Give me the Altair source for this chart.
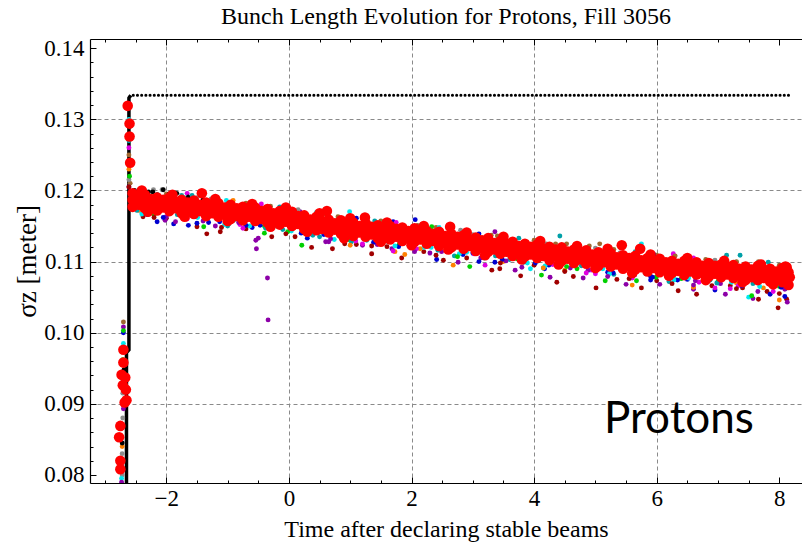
import altair as alt
import pandas as pd

TITLE = "Bunch Length Evolution for Protons, Fill 3056"
X_TITLE = "Time after declaring stable beams"
Y_TITLE = "σz [meter]"
LABEL = "Protons"
LABEL_T = [5.14]
LABEL_Y = [0.0859]

X_DOMAIN = [-3.245, 8.37]
Y_DOMAIN = [0.07887, 0.1413]
X_MAJOR = [-2, 0, 2, 4, 6, 8]
X_MINOR = [-3.0, -2.5, -1.5, -1.0, -0.5, 0.5, 1.0, 1.5, 2.5, 3.0, 3.5, 4.5, 5.0, 5.5, 6.5, 7.0, 7.5]
X_GRID = [-2, 0, 2, 4, 6]
Y_MAJOR = [0.08, 0.09, 0.10, 0.11, 0.12, 0.13, 0.14]
Y_MINOR = [0.082, 0.084, 0.086, 0.088, 0.092, 0.094, 0.096, 0.098, 0.102, 0.104, 0.106, 0.108,
           0.112, 0.114, 0.116, 0.118, 0.122, 0.124, 0.126, 0.128, 0.132, 0.134, 0.136, 0.138]
Y_GRID = [0.09, 0.10, 0.11, 0.12, 0.13]

# bunch length values below are in units of 0.1 mm (1186 -> 0.1186 m)
T_RED = [-2.55, -2.35, -2.15, -1.95, -1.75, -1.55, -1.35, -1.15, -0.95, -0.75, -0.55, -0.35, -0.15,
         0.05, 0.25, 0.45, 0.65, 0.85, 1.05, 1.25, 1.45, 1.65, 1.85, 2.05, 2.25, 2.45, 2.65, 2.85,
         3.05, 3.25, 3.45, 3.65, 3.85, 4.05, 4.25, 4.45, 4.65, 4.85, 5.05, 5.25, 5.45, 5.65, 5.85,
         6.05, 6.25, 6.45, 6.65, 6.85, 7.05, 7.25, 7.45, 7.65, 7.85, 8.05]
RED_UP = [1196, 1194, 1190, 1190, 1187, 1186, 1183, 1182, 1180, 1177,
          1176, 1174, 1171, 1170, 1165, 1163, 1159, 1158, 1155, 1154,
          1151, 1150, 1148, 1147, 1143, 1142, 1139, 1137, 1134, 1133,
          1129, 1128, 1125, 1124, 1121, 1120, 1117, 1116, 1113, 1112,
          1109, 1108, 1105, 1104, 1101, 1101, 1099, 1098, 1096, 1095,
          1093, 1094, 1090, 1091]
RED_MID = [1187, 1183, 1184, 1179, 1180, 1175, 1176, 1171, 1171, 1167,
           1169, 1163, 1164, 1158, 1157, 1152, 1151, 1147, 1148, 1145,
           1143, 1142, 1138, 1139, 1135, 1133, 1131, 1126, 1127, 1122,
           1121, 1117, 1118, 1113, 1113, 1109, 1110, 1105, 1106, 1101,
           1102, 1097, 1098, 1094, 1095, 1090, 1092, 1088, 1089, 1086,
           1087, 1083, 1083, 1080]
RED_LO = [1177, 1175, 1172, 1171, 1168, 1167, 1164, 1163, 1160, 1158,
          1157, 1155, 1152, 1150, 1146, 1144, 1141, 1139, 1136, 1135,
          1133, 1131, 1129, 1128, 1125, 1122, 1120, 1118, 1115, 1114,
          1111, 1108, 1107, 1105, 1102, 1101, 1098, 1097, 1094, 1093,
          1090, 1089, 1086, 1085, 1084, 1081, 1082, 1079, 1078, 1077,
          1074, 1074, 1072, 1071]
T_RED2 = [-2.45, -2.25, -2.05, -1.85, -1.65, -1.45, -1.25, -1.05, -0.85, -0.65, -0.45, -0.25, -0.05,
          0.15, 0.35, 0.55, 0.75, 0.95, 1.15, 1.35, 1.55, 1.75, 1.95, 2.15, 2.35, 2.55, 2.75, 2.95,
          3.15, 3.35, 3.55, 3.75, 3.95, 4.15, 4.35, 4.55, 4.75, 4.95, 5.15, 5.35, 5.55, 5.75, 5.95,
          6.15, 6.35, 6.55, 6.75, 6.95, 7.15, 7.35, 7.55, 7.75, 7.95]
RED_A = [1191, 1188, 1187, 1184, 1183, 1180, 1179, 1176, 1175, 1172, 1171, 1168, 1167,
         1164, 1159, 1157, 1154, 1153, 1150, 1149, 1146, 1146, 1143, 1141, 1139, 1136, 1135,
         1131, 1130, 1126, 1125, 1122, 1121,
         1118, 1117, 1114, 1113, 1110, 1109, 1106, 1105, 1102, 1101, 1099, 1097, 1096, 1094,
         1094, 1092, 1090, 1089, 1088, 1086]
RED_B = [1180, 1179, 1176, 1175, 1172, 1171, 1168, 1167, 1164, 1163, 1160, 1159, 1156,
         1153, 1150, 1146, 1145, 1142, 1141, 1138, 1137, 1135, 1133, 1131, 1129, 1126, 1124,
         1122, 1119, 1117, 1114, 1113, 1110,
         1108, 1107, 1104, 1103, 1100, 1099, 1096, 1095, 1092, 1091, 1089, 1087, 1086, 1084,
         1083, 1082, 1080, 1078, 1077, 1076]
# ragged red points along both edges of the band
RED_EDGE_T = [-2.4, -1.9, -1.2, -0.6, -0.05, 0.5, 1.0, 1.6, 2.2, 2.9, 3.5, 4.1, 4.7, 5.2, 5.9, 6.5,
              7.1, 7.7, 8.1,
              -2.3, -1.7, -1.0, -0.3, 0.3, 0.9, 1.5, 2.0, 2.6, 3.2, 3.8, 4.4, 5.0, 5.6, 6.2, 6.8,
              7.4, 7.9, 8.15]
RED_EDGE_Y = [1200, 1194, 1188, 1181, 1176, 1168, 1161, 1155, 1150, 1141, 1135, 1129, 1122, 1118,
              1110, 1105, 1101, 1096, 1093,
              1170, 1163, 1157, 1149, 1142, 1133, 1128, 1123, 1117, 1109, 1103, 1096, 1091, 1084,
              1080, 1074, 1071, 1068, 1067]
RED_X_T = [-2.77, -2.75, -2.75, -2.75, -2.73, -2.71, -2.70, -2.70, -2.68, -2.67, -2.66, -2.65,
           -2.63, -2.60, -2.60, -2.59, -1.42, 0.62, 1.24, 2.63, 5.43, 5.73, 8.12, 8.15, 8.17]
RED_X_Y = [853, 869, 820, 808, 941, 926, 976, 958, 902, 937, 920, 905,
           1319, 1294, 1276, 1239, 1196, 1171, 1162, 1149, 1123, 1118, 1092, 1085, 1078]

DARKRED_T = [-2.38, -2.0, -1.5, -1.34, -1.12, -0.7, -0.28, 0.1, 0.37, 0.71, 0.91, 1.1, 1.35, 1.6,
             1.84, 2.2, 2.52, 2.9, 3.31, 3.44, 3.78, 4.0, 4.37, 4.64, 5.01, 5.35, 5.6, 5.75, 6.0,
             6.35, 6.65, 6.9, 7.2, 7.4, 7.66, 7.8, 7.98, 8.12]
DARKRED_Y = [1163, 1161, 1149, 1139, 1142, 1146, 1135, 1135, 1120, 1118, 1125, 1124, 1111, 1121,
             1105, 1114, 1102, 1105, 1088, 1090, 1080, 1095, 1071, 1079, 1063, 1075, 1078, 1063,
             1073, 1059, 1054, 1066, 1066, 1063, 1047, 1058, 1035, 1047]
PURPLE_T = [-2.02, -1.2, -0.54, -0.53, -0.5, -0.35, -0.34, 0.18, 0.6, 1.2, 1.68, 2.3, 2.76, 3.36,
            3.69, 4.26, 4.8, 5.5, 6.05, 6.6, 7.12, 7.57, 8.13]
PURPLE_Y = [1158, 1150, 1130, 1118, 1133, 1077, 1018, 1170, 1128, 1123, 1118, 1112, 1099, 1142,
            1088, 1078, 1077, 1068, 1068, 1061, 1054, 1048, 1043]
BLUE_T = [-2.15, -1.88, -1.64, -1.13, -0.6, 0.2, 0.9, 1.70, 2.06, 2.41, 3.0, 3.36, 4.02, 4.17,
          4.42, 5.2, 5.9, 6.5, 6.95, 7.4, 7.85, 8.09]
BLUE_Y = [1156, 1153, 1151, 1156, 1148, 1140, 1134, 1156, 1159, 1103, 1112, 1099, 1098, 1090,
          1095, 1085, 1079, 1075, 1060, 1068, 1054, 1051]
CYAN_T = [-2.3, -1.7, -0.9, -0.2, 0.99, 1.5, 2.2, 2.9, 3.94, 4.15, 4.9, 5.75, 6.3, 7.0, 7.5, 8.12]
CYAN_Y = [1168, 1190, 1158, 1150, 1170, 1128, 1120, 1113, 1090, 1091, 1088, 1125, 1075, 1070, 1050, 1065]
TEAL_T = [-2.5, -1.75, -1.18, -1.0, -0.1, 0.5, 1.4, 2.7, 3.6, 4.42, 5.3, 6.2, 7.14, 7.36, 7.82, 8.1]
TEAL_Y = [1175, 1193, 1189, 1150, 1145, 1135, 1130, 1108, 1103, 1136, 1082, 1072, 1109, 1109, 1099, 1062]
GREEN_T = [-2.2, -1.39, -0.4, 0.21, 1.0, 1.8, 2.33, 2.95, 4.12, 4.7, 5.16, 5.67, 6.4, 7.0, 7.55, 8.0]
GREEN_Y = [1166, 1149, 1150, 1123, 1130, 1124, 1149, 1093, 1081, 1090, 1073, 1073, 1076, 1072, 1052, 1065]
MAGENTA_T = [-2.4, -1.66, -0.8, 0.3, 1.2, 2.0, 2.9, 3.2, 4.3, 5.0, 5.6, 6.27, 6.8, 7.2, 7.9]
MAGENTA_Y = [1170, 1196, 1152, 1142, 1125, 1125, 1142, 1095, 1096, 1083, 1077, 1111, 1073, 1062, 1058]
ORANGE_T = [-2.45, -0.91, 0.4, 1.73, 1.89, 2.68, 3.5, 4.5, 5.6, 6.6, 7.3, 8.0]
ORANGE_Y = [1172, 1186, 1140, 1114, 1110, 1095, 1100, 1088, 1067, 1064, 1070, 1046]
BROWN_T = [-2.59, -2.0, -1.2, -0.3, 0.6, 1.5, 2.4, 3.3, 4.0, 4.53, 4.9, 5.07, 6.0, 6.8, 7.3, 7.66, 8.0]
BROWN_Y = [1210, 1195, 1188, 1178, 1167, 1157, 1148, 1137, 1130, 1125, 1122, 1125, 1109, 1103, 1099, 1100, 1092]
GRAY_T = [-2.57, -2.21, -2.07, -1.5, -0.6, 0.5, 1.3, 2.2, 3.0, 4.2, 5.4, 6.5, 7.6, 8.1]
GRAY_Y = [1195, 1201, 1201, 1190, 1176, 1168, 1155, 1148, 1138, 1125, 1112, 1102, 1090, 1085]
BLACK_T = [-2.55, -2.45, -2.29, -2.15, -2.05, -1.95, -1.83, -1.64, -1.4, -1.0, -0.69, 0.3, 1.5,
           3.0, 4.5, 6.0, 7.5]
BLACK_Y = [1192, 1197, 1198, 1194, 1201, 1195, 1196, 1191, 1187, 1182, 1175, 1158, 1146,
           1130, 1116, 1102, 1090]

# fringe bunches just under the red band
LOW_T = [-2.48, -2.31, -2.17, -2.0, -1.82, -1.66, -1.49, -1.31, -1.15, -0.98, -0.82, -0.64, -0.47,
         -0.3, -0.13, 0.04, 0.22, 0.39, 0.57, 0.74, 0.92, 1.09, 1.27, 1.44, 1.62, 1.79, 1.97, 2.14,
         2.32, 2.49, 2.67, 2.84, 3.02, 3.19, 3.37, 3.54, 3.72, 3.89, 4.07, 4.24, 4.42, 4.59, 4.77,
         4.94, 5.12, 5.29, 5.47, 5.64, 5.82, 5.99, 6.17, 6.34, 6.52, 6.69, 6.87, 7.04, 7.22, 7.39,
         7.57, 7.74, 7.92, 8.09]
LOW_Y = [1172, 1166, 1169, 1163, 1166, 1160, 1162, 1155, 1160, 1153, 1155, 1150, 1151,
         1147, 1149, 1143, 1143, 1137, 1138, 1131, 1135, 1129, 1130, 1124, 1128, 1121, 1124, 1118,
         1120, 1114, 1117, 1110, 1111, 1105, 1108, 1101, 1104, 1098, 1101, 1095, 1096, 1091, 1094,
         1088, 1090, 1084, 1087, 1081, 1083, 1078, 1080, 1074, 1077, 1071, 1074, 1069, 1071, 1066,
         1069, 1063, 1066, 1061]
LOW_C = ["teal", "blue", "cyan", "purple", "teal", "magenta", "cyan", "blue", "green", "teal",
         "purple", "cyan", "blue", "teal", "magenta", "cyan", "purple", "teal", "blue", "cyan",
         "green", "magenta", "teal", "purple", "cyan", "blue", "teal", "orange", "cyan", "purple",
         "teal", "blue", "magenta", "cyan", "teal", "purple", "green", "cyan", "teal", "blue",
         "cyan", "purple", "teal", "magenta", "cyan", "blue", "teal", "purple", "cyan", "green",
         "teal", "blue", "cyan", "magenta", "teal", "purple", "cyan", "blue", "teal", "orange",
         "cyan", "purple"]
LOW2_T = [-2.4, -2.05, -1.72, -1.4, -1.05, -0.7, -0.38, -0.02, 0.33, 0.68, 1.02, 1.38, 1.73, 2.08,
          2.43, 2.78, 3.13, 3.48, 3.83, 4.18, 4.53, 4.88, 5.23, 5.58, 5.93, 6.28, 6.63, 6.98, 7.33,
          7.68, 8.03]
LOW2_Y = [1167, 1162, 1161, 1157, 1152, 1151, 1147, 1142, 1138, 1132, 1128, 1127, 1122, 1118,
          1116, 1111, 1105, 1103, 1099, 1094, 1093, 1088, 1083, 1082, 1078, 1074, 1073, 1070, 1066,
          1065, 1064]
LOW2_C = ["cyan", "blue", "teal", "purple", "cyan", "blue", "teal", "green", "cyan", "purple",
          "teal", "blue", "cyan", "magenta", "teal", "cyan", "purple", "blue", "teal", "cyan",
          "green", "purple", "cyan", "teal", "blue", "cyan", "purple", "teal", "magenta", "cyan",
          "blue"]
DEEP_T = [-2.2, -1.85, -1.5, -1.1, -0.75, -0.4, -0.05, 0.3, 0.65, 1.0, 1.35, 1.7, 2.05, 2.4, 2.75,
          3.1, 3.45, 3.8, 4.15, 4.5, 4.85, 5.2, 5.55, 5.9, 6.25, 6.6, 6.95, 7.3, 7.65, 8.0]
DEEP_Y = [1162, 1156, 1154, 1148, 1147, 1140, 1139, 1133, 1128, 1123, 1122, 1115, 1114, 1109, 1107,
          1100, 1098, 1092, 1091, 1086, 1084, 1079, 1076, 1074, 1069, 1067, 1063, 1062, 1058, 1055]
DEEP_C = ["darkred", "purple", "blue", "darkred", "magenta", "green", "darkred", "blue", "purple",
          "orange", "darkred", "magenta", "purple", "darkred", "green", "blue", "darkred", "purple",
          "orange", "darkred", "magenta", "purple", "darkred", "blue", "darkred", "purple",
          "magenta", "darkred", "purple", "darkred"]
# fringe bunches just above the red band
HIGH_T = [-2.52, -2.38, -2.22, -1.9, -1.58, -1.27, -1.02, -0.7, -0.45, -0.15, 0.15, 0.45, 0.8, 1.1,
          1.4, 1.75, 2.1, 2.45, 2.8, 3.1, 3.4, 3.75, 4.05, 4.35, 4.7, 5.0, 5.3, 5.65, 5.95, 6.3,
          6.6, 6.95, 7.3, 7.65, 8.0]
HIGH_Y = [1200, 1199, 1198, 1194, 1193, 1188, 1186, 1182, 1181, 1177, 1173, 1169, 1163, 1161,
          1157, 1155, 1151, 1148, 1144, 1139, 1136, 1133, 1129, 1125, 1122, 1119, 1117, 1114, 1110,
          1108, 1105, 1102, 1100, 1098, 1095]
HIGH_C = ["black", "gray", "black", "brown", "teal", "gray", "cyan", "brown", "magenta", "teal",
          "gray", "cyan", "brown", "blue", "teal", "magenta", "brown", "cyan", "gray", "blue",
          "brown", "teal", "magenta", "brown", "cyan", "gray", "brown", "teal", "blue", "brown",
          "magenta", "gray", "brown", "teal", "brown"]

RAMP_T = [-2.72, -2.72, -2.71, -2.71, -2.73, -2.70, -2.70, -2.73, -2.70, -2.73, -2.70, -2.70,
          -2.70, -2.71, -2.72, -2.72, -2.70, -2.69, -2.70, -2.72, -2.71, -2.70,
          -2.61, -2.61, -2.61, -2.61, -2.61, -2.60, -2.61, -2.61, -2.60, -2.61, -2.61]
RAMP_Y = [800, 830, 880, 915, 795, 955, 985, 812, 1000, 790, 1008, 893,
          1003, 962, 840, 845, 930, 948, 1015, 870, 935, 898,
          1322, 1300, 1270, 1250, 1230, 1290, 1215, 1205, 1220, 1260, 1205]
RAMP_C = ["gray", "gray", "gray", "gray", "cyan", "cyan", "cyan", "blue", "blue", "purple", "purple",
          "purple", "green", "green", "orange", "black", "black", "black", "brown", "teal", "teal",
          "magenta", "blue", "cyan", "teal", "brown", "orange", "black", "gray", "purple", "green",
          "magenta", "darkred"]

STEP_T = [-2.65, -2.65, -2.61, -2.61, -2.58]
STEP_Y = [0.0780, 0.0972, 0.0976, 0.1330, 0.1334]
DOT_T = [-2.54, 8.21]
DOT_Y = [0.1334, 0.1334]

COLOR_NAMES = ["black", "gray", "blue", "cyan", "teal", "green", "purple", "magenta", "orange",
               "brown", "darkred"]
COLOR_VALUES = ["#000000", "#8c8c8c", "#0000d0", "#00e8f0", "#00a0a8", "#00d000", "#8c00a8",
                "#e000e0", "#ff8000", "#a06830", "#a00000"]

SERIES = {
    "darkred": (DARKRED_T, DARKRED_Y), "purple": (PURPLE_T, PURPLE_Y), "blue": (BLUE_T, BLUE_Y),
    "cyan": (CYAN_T, CYAN_Y), "teal": (TEAL_T, TEAL_Y), "green": (GREEN_T, GREEN_Y),
    "magenta": (MAGENTA_T, MAGENTA_Y), "orange": (ORANGE_T, ORANGE_Y), "brown": (BROWN_T, BROWN_Y),
    "gray": (GRAY_T, GRAY_Y), "black": (BLACK_T, BLACK_Y),
}

rows = []
for name, (ts, ys) in SERIES.items():
    assert len(ts) == len(ys), name
    rows += [{"t": t, "y": y / 10000, "c": name} for t, y in zip(ts, ys)]
for ts, ys, cs in ((LOW_T, LOW_Y, LOW_C), (LOW2_T, LOW2_Y, LOW2_C), (DEEP_T, DEEP_Y, DEEP_C),
                   (HIGH_T, HIGH_Y, HIGH_C), (RAMP_T, RAMP_Y, RAMP_C)):
    assert len(ts) == len(ys) == len(cs), (len(ts), len(ys), len(cs))
    rows += [{"t": t, "y": y / 10000, "c": c} for t, y, c in zip(ts, ys, cs)]
dots = pd.DataFrame(rows)

assert len(T_RED) == len(RED_UP) == len(RED_MID) == len(RED_LO)
assert len(T_RED2) == len(RED_A) == len(RED_B), (len(T_RED2), len(RED_A), len(RED_B))
assert len(RED_X_T) == len(RED_X_Y)
assert len(RED_EDGE_T) == len(RED_EDGE_Y), (len(RED_EDGE_T), len(RED_EDGE_Y))
red_rows = []
for row in (RED_LO, RED_MID, RED_UP):
    red_rows += [{"t": t, "y": y / 10000} for t, y in zip(T_RED, row)]
for row in (RED_B, RED_A):
    red_rows += [{"t": t, "y": y / 10000} for t, y in zip(T_RED2, row)]
red_rows += [{"t": t, "y": y / 10000} for t, y in zip(RED_EDGE_T, RED_EDGE_Y)]
red_rows += [{"t": t, "y": y / 10000} for t, y in zip(RED_X_T, RED_X_Y)]
red = pd.DataFrame(red_rows)

step = pd.DataFrame({"t": STEP_T, "y": STEP_Y, "o": list(range(len(STEP_T)))})
dotted = pd.DataFrame({"t": DOT_T, "y": DOT_Y})
label = pd.DataFrame({"t": LABEL_T, "y": LABEL_Y, "txt": [LABEL]})
anchor = pd.DataFrame({"t": [0.0], "y": [0.11]})

SERIF = "Liberation Serif"
XS = alt.Scale(domain=X_DOMAIN, nice=False, zero=False)
YS = alt.Scale(domain=Y_DOMAIN, nice=False, zero=False)


def xy(xaxis=None, yaxis=None):
    return dict(x=alt.X("t:Q", scale=XS, axis=xaxis), y=alt.Y("y:Q", scale=YS, axis=yaxis))


def axis_layer(xaxis=None, yaxis=None):
    return alt.Chart(anchor).mark_point(opacity=0).encode(**xy(xaxis, yaxis))


def tick_axis(orient, values, size):
    return alt.Axis(orient=orient, values=values, ticks=True, tickSize=size, offset=-size,
                    tickColor="black", tickWidth=1, domain=False, labels=False, grid=False, title=None)


def grid_axis(orient, values):
    return alt.Axis(orient=orient, values=values, ticks=False, domain=False, labels=False, grid=True,
                    gridColor="#8a8a8a", gridDash=[4, 3], gridWidth=1, title=None)


x_main = alt.Axis(orient="bottom", values=X_MAJOR, format="d", ticks=False, grid=False, domain=True,
                  domainColor="black", domainWidth=1.2, labelFont=SERIF, labelFontSize=23,
                  labelColor="black", labelPadding=4, title=X_TITLE, titleFont=SERIF,
                  titleFontSize=24, titleFontWeight="normal", titleColor="black", titlePadding=7)
x_top = alt.Axis(orient="top", values=X_MAJOR, ticks=False, grid=False, domain=True,
                 domainColor="black", domainWidth=1.2, labels=False, title=None)
y_main = alt.Axis(orient="left", values=Y_MAJOR, format=".2f", ticks=False, grid=False, domain=True,
                  domainColor="black", domainWidth=1.2, labelFont=SERIF, labelFontSize=23,
                  labelColor="black", labelPadding=6, title=Y_TITLE, titleFont=SERIF,
                  titleFontSize=27, titleFontWeight="normal", titleColor="black", titlePadding=2)

layers = [
    axis_layer(xaxis=grid_axis("bottom", X_GRID)),
    axis_layer(yaxis=grid_axis("left", Y_GRID)),
    axis_layer(xaxis=x_main),
    axis_layer(xaxis=x_top),
    axis_layer(yaxis=y_main),
    axis_layer(xaxis=tick_axis("bottom", X_MAJOR, 6)),
    axis_layer(xaxis=tick_axis("bottom", X_MINOR, 3)),
    axis_layer(xaxis=tick_axis("top", X_MAJOR, 6)),
    axis_layer(xaxis=tick_axis("top", X_MINOR, 3)),
    axis_layer(yaxis=tick_axis("left", Y_MAJOR, 6)),
    axis_layer(yaxis=tick_axis("left", Y_MINOR, 3)),
    alt.Chart(step).mark_line(color="black", strokeWidth=3.5, clip=True).encode(
        order=alt.Order("o:Q"), **xy()),
    alt.Chart(dotted).mark_line(color="black", strokeWidth=3, strokeDash=[0.1, 4.1],
                                strokeCap="round", clip=True).encode(**xy()),
    alt.Chart(dots).mark_circle(size=24, opacity=1, clip=True).encode(
        color=alt.Color("c:N", scale=alt.Scale(domain=COLOR_NAMES, range=COLOR_VALUES), legend=None),
        **xy()),
    alt.Chart(red).mark_circle(size=112, opacity=1, color="#ff0000", clip=True).encode(**xy()),
    alt.Chart(label).mark_text(font="Lato", fontSize=44, align="left", baseline="alphabetic",
                               color="black").encode(text="txt:N", **xy()),
]

chart = alt.layer(*layers).resolve_axis(x="independent", y="independent").properties(
    width=712, height=444,
    autosize=alt.AutoSizeParams(type="none"),
    padding={"left": 90, "top": 39, "right": 0, "bottom": 61},
    title=alt.TitleParams(TITLE, font=SERIF, fontSize=24, fontWeight="normal", color="black",
                          offset=8, anchor="middle"),
).configure_view(stroke=None).configure(background="white")

chart.save("out.html", embed_options={"renderer": "svg", "actions": False})
